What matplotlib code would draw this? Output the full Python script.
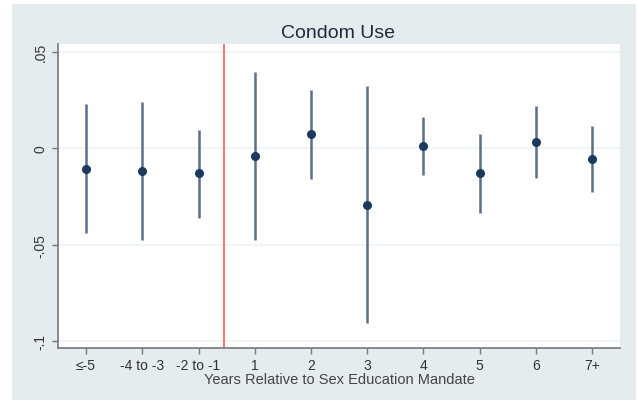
import matplotlib.pyplot as plt
from matplotlib.patches import Rectangle
import numpy as np

plt.rcParams['font.family'] = ['Liberation Sans', 'DejaVu Sans']

# event-study estimates
labels = ['≤-5', '-4 to -3', '-2 to -1', '1', '2', '3', '4', '5', '6', '7+']
coef = [-0.011, -0.012, -0.013, -0.0042, 0.0073, -0.0295, 0.001, -0.013, 0.003, -0.0057]
ci_low = [-0.044, -0.0477, -0.036, -0.0477, -0.016, -0.0907, -0.014, -0.0337, -0.0155, -0.0228]
ci_high = [0.0228, 0.0238, 0.0093, 0.0394, 0.030, 0.032, 0.016, 0.0073, 0.0217, 0.0114]
yticks = [0.05, 0, -0.05, -0.1]
ytick_labels = ['.05', '0', '-.05', '-.1']

x = np.arange(len(labels))

fig = plt.figure(figsize=(6.38, 4.02), dpi=100)
fig.patch.set_facecolor('white')
# stata-style graph region
fig.patches.append(Rectangle((12 / 638, 1 / 402), 624 / 638, 396 / 402,
                             transform=fig.transFigure, facecolor='#e4ecef',
                             edgecolor='none', zorder=-5))

ax = fig.add_axes([58 / 638, 53 / 402, 562 / 638, 304 / 402])
ax.set_zorder(2)
ax.set_facecolor('white')

for yt in yticks:
    ax.axhline(yt, color='#eef4f6', lw=1.2, zorder=1)

ax.vlines(x, ci_low, ci_high, color='#5b6f8e', lw=1.8, zorder=2)
ax.plot(x, coef, 'o', color='#1a3a5e', ms=5.5, zorder=3)
ax.axvline(2.46, color='#ff5a5a', lw=1.2, zorder=2)

ax.set_xlim(-0.5, 9.5)
ax.set_ylim(-0.1036, 0.054)
ax.set_xticks(x)
ax.set_xticklabels(labels, fontsize=10, color='#333333')
ax.set_yticks(yticks)
ax.set_yticklabels(ytick_labels, fontsize=10, color='#333333', rotation=90, va='center')
ax.tick_params(axis='both', color='#777777', length=4, width=1)

for s in ['top', 'right']:
    ax.spines[s].set_visible(False)
for s in ['left', 'bottom']:
    ax.spines[s].set_color('#777777')
    ax.spines[s].set_linewidth(1.2)

ax.set_xlabel('Years Relative to Sex Education Mandate', fontsize=10.5, color='#444444', labelpad=0)
fig.text(338 / 638, 1 - 33 / 402, 'Condom Use', ha='center', va='center',
         fontsize=14, color='#1e2b3c', zorder=3)

fig.savefig('out.png', dpi=100)
